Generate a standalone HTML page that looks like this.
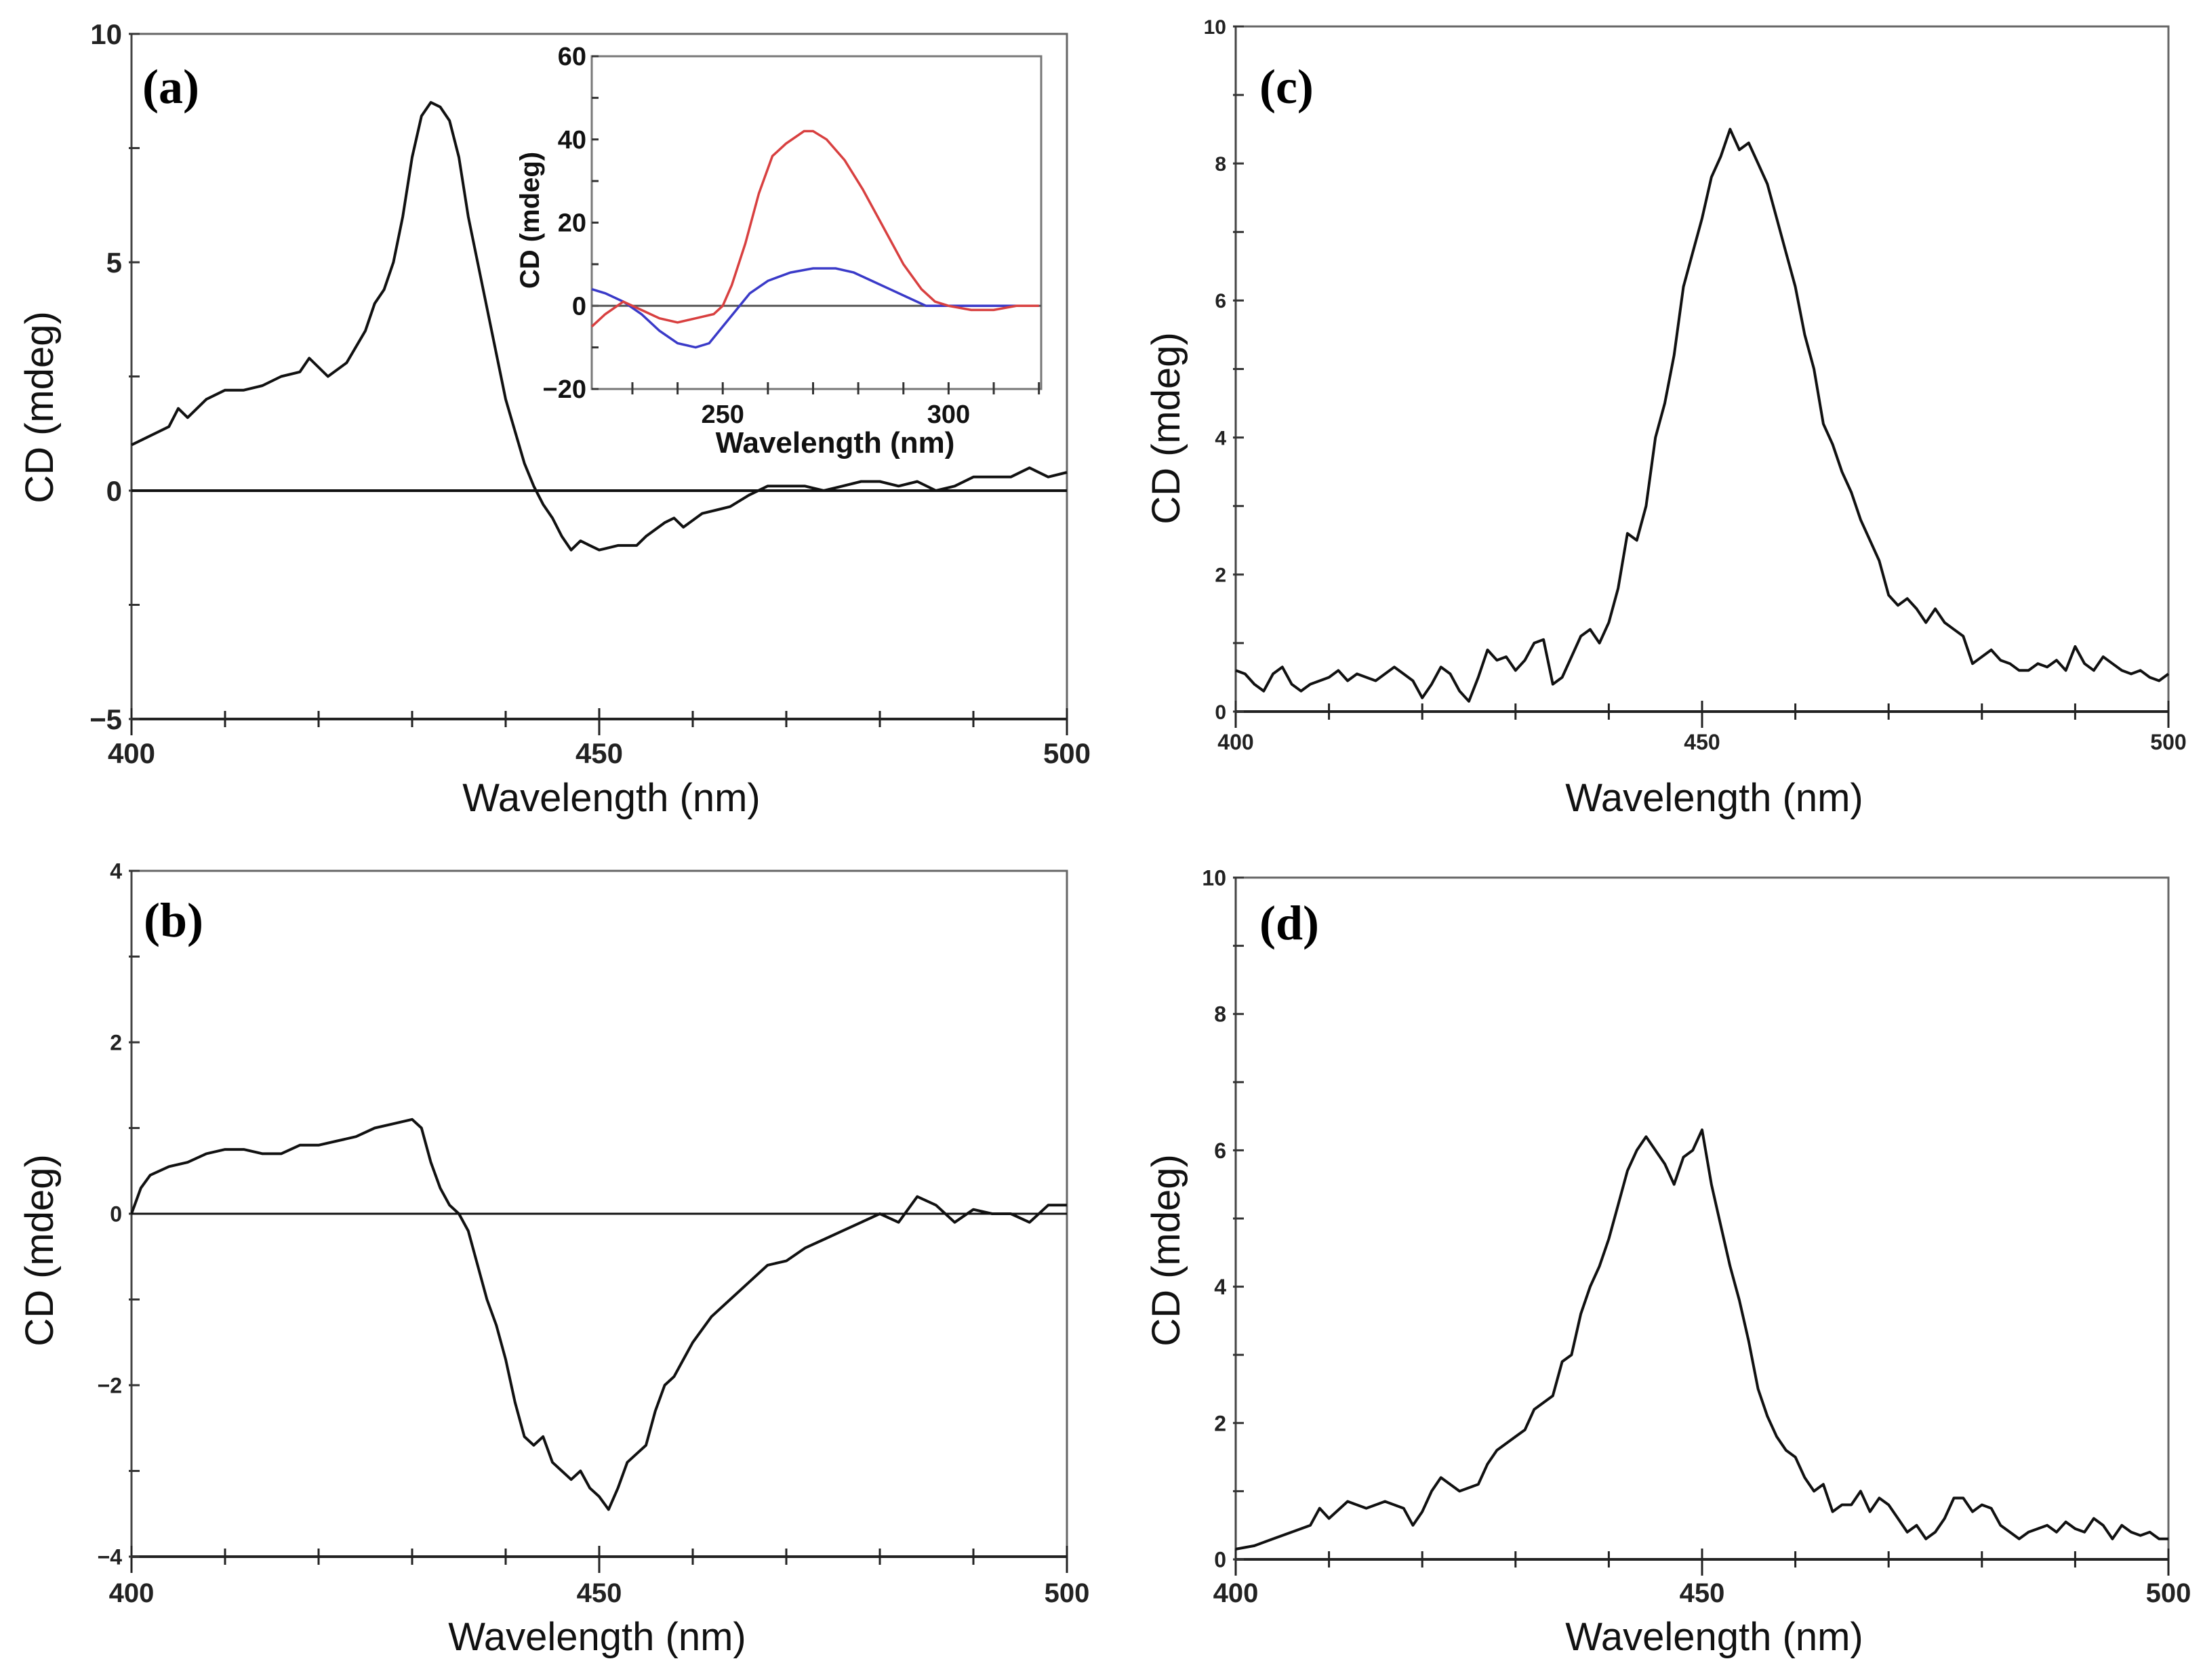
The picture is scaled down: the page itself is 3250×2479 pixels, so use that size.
<!DOCTYPE html>
<html><head><meta charset="utf-8"><style>
html,body{margin:0;padding:0;background:#fff}
svg{display:block}
text{font-family:"Liberation Sans",Arial,sans-serif}
text.plab{font-family:"Liberation Serif",serif}
</style></head><body>
<svg id="fig" width="3250" height="2479" viewBox="0 0 3250 2479" xmlns="http://www.w3.org/2000/svg"></svg>
<script>
// ---------- data ----------
const aWl = [400,402,404,405,406,408,410,412,414,416,418,419,420,421,423,425,426,427,428,429,430,431,432,433,434,435,436,437,438,439,440,441,442,443,444,445,446,447,448,449,450,452,454,455,457,458,459,461,463,464,466,468,470,472,474,476,478,480,482,484,486,488,490,492,494,496,498,500];
const aCD = [1.0,1.2,1.4,1.8,1.6,2.0,2.2,2.2,2.3,2.5,2.6,2.9,2.7,2.5,2.8,3.5,4.1,4.4,5.0,6.0,7.3,8.2,8.5,8.4,8.1,7.3,6.0,5.0,4.0,3.0,2.0,1.3,0.6,0.1,-0.3,-0.6,-1.0,-1.3,-1.1,-1.2,-1.3,-1.2,-1.2,-1.0,-0.7,-0.6,-0.8,-0.5,-0.4,-0.35,-0.1,0.1,0.1,0.1,0.0,0.1,0.2,0.2,0.1,0.2,0.0,0.1,0.3,0.3,0.3,0.5,0.3,0.4];
const insRedWl = [221,224,228,232,236,240,244,248,250,252,255,258,261,264,268,270,273,277,281,285,290,294,297,300,305,310,315,320];
const insRedCD = [-5,-2,1,-1,-3,-4,-3,-2,0,5,15,27,36,39,42,42,40,35,28,20,10,4,1,0,-1,-1,0,0];
const insBlueWl = [221,224,228,232,236,240,244,247,250,253,256,260,265,270,275,279,283,287,291,295,300,310,320];
const insBlueCD = [4,3,1,-2,-6,-9,-10,-9,-5,-1,3,6,8,9,9,8,6,4,2,0,0,0,0];
const bWl = [400,401,402,404,406,408,410,412,414,416,418,420,422,424,426,428,430,431,432,433,434,435,436,437,438,439,440,441,442,443,444,445,446,447,448,449,450,451,452,453,454,455,456,457,458,459,460,462,464,466,468,470,472,474,476,478,480,482,484,486,488,490,492,494,496,498,500];
const bCD = [0.0,0.3,0.45,0.55,0.6,0.7,0.75,0.75,0.7,0.7,0.8,0.8,0.85,0.9,1.0,1.05,1.1,1.0,0.6,0.3,0.1,0.0,-0.2,-0.6,-1.0,-1.3,-1.7,-2.2,-2.6,-2.7,-2.6,-2.9,-3.0,-3.1,-3.0,-3.2,-3.3,-3.45,-3.2,-2.9,-2.8,-2.7,-2.3,-2.0,-1.9,-1.7,-1.5,-1.2,-1.0,-0.8,-0.6,-0.55,-0.4,-0.3,-0.2,-0.1,0.0,-0.1,0.2,0.1,-0.1,0.05,0.0,0.0,-0.1,0.1,0.1];
const cWl = [400,401,402,403,404,405,406,407,408,410,411,412,413,415,417,418,419,420,421,422,423,424,425,426,427,428,429,430,431,432,433,434,435,436,437,438,439,440,441,442,443,444,445,446,447,448,449,450,451,452,453,454,455,456,457,458,459,460,461,462,463,464,465,466,467,468,469,470,471,472,473,474,475,476,477,478,479,480,481,482,483,484,485,486,487,488,489,490,491,492,493,494,495,496,497,498,499,500];
const cCD = [0.6,0.55,0.4,0.3,0.55,0.65,0.4,0.3,0.4,0.5,0.6,0.45,0.55,0.45,0.65,0.55,0.45,0.2,0.4,0.65,0.55,0.3,0.15,0.5,0.9,0.75,0.8,0.6,0.75,1.0,1.05,0.4,0.5,0.8,1.1,1.2,1.0,1.3,1.8,2.6,2.5,3.0,4.0,4.5,5.2,6.2,6.7,7.2,7.8,8.1,8.5,8.2,8.3,8.0,7.7,7.2,6.7,6.2,5.5,5.0,4.2,3.9,3.5,3.2,2.8,2.5,2.2,1.7,1.55,1.65,1.5,1.3,1.5,1.3,1.2,1.1,0.7,0.8,0.9,0.75,0.7,0.6,0.6,0.7,0.65,0.75,0.6,0.95,0.7,0.6,0.8,0.7,0.6,0.55,0.6,0.5,0.45,0.55];
const dWl = [400,402,404,406,408,409,410,412,414,416,418,419,420,421,422,424,426,427,428,430,431,432,434,435,436,437,438,439,440,441,442,443,444,445,446,447,448,449,450,451,452,453,454,455,456,457,458,459,460,461,462,463,464,465,466,467,468,469,470,471,472,473,474,475,476,477,478,479,480,481,482,483,484,485,486,487,488,489,490,491,492,493,494,495,496,497,498,499,500];
const dCD = [0.15,0.2,0.3,0.4,0.5,0.75,0.6,0.85,0.75,0.85,0.75,0.5,0.7,1.0,1.2,1.0,1.1,1.4,1.6,1.8,1.9,2.2,2.4,2.9,3.0,3.6,4.0,4.3,4.7,5.2,5.7,6.0,6.2,6.0,5.8,5.5,5.9,6.0,6.3,5.5,4.9,4.3,3.8,3.2,2.5,2.1,1.8,1.6,1.5,1.2,1.0,1.1,0.7,0.8,0.8,1.0,0.7,0.9,0.8,0.6,0.4,0.5,0.3,0.4,0.6,0.9,0.9,0.7,0.8,0.75,0.5,0.4,0.3,0.4,0.45,0.5,0.4,0.55,0.45,0.4,0.6,0.5,0.3,0.5,0.4,0.35,0.4,0.3,0.3];
const xTicksMain = [400,450,500];
const yTicksA = [10,5,0,-5];
const yTicksB = [4,2,0,-2,-4];
const yTicksCD = [10,8,6,4,2,0];
const insXTicks = [250,300];
const insYTicks = [60,40,20,0,-20];

// ---------- helpers ----------
const NS = "http://www.w3.org/2000/svg";
const svg = document.getElementById('fig');
function mk(tag, attrs, parent){
  const e = document.createElementNS(NS, tag);
  for (const k in attrs) e.setAttribute(k, attrs[k]);
  (parent||svg).appendChild(e);
  return e;
}
function scale(d0,d1,r0,r1){ return v => r0 + (v-d0)/(d1-d0)*(r1-r0); }

function panel(o){
  const g = mk('g', {});
  
  
  const X = scale(o.xmin,o.xmax,o.L,o.R), Y = scale(o.ymin,o.ymax,o.B,o.T);
  const fr = mk('rect',{x:o.L,y:o.T,width:o.R-o.L,height:o.B-o.T,fill:'none',stroke:'#666','stroke-width':3},g);
  
  
  const ax = mk('line',{x1:o.L,y1:o.B,x2:o.R,y2:o.B,stroke:'#222','stroke-width':4},g);
  
  
  mk('line',{x1:o.L,y1:o.T,x2:o.L,y2:o.B,stroke:'#444','stroke-width':3},g);
  for (let v=o.xmin; v<=o.xmax; v+=o.xminor){
    const big = o.xticks.includes(v);
    const t = mk('line',{x1:X(v),y1:o.B-(big?16:12),x2:X(v),y2:o.B+(big?24:12),stroke:'#222','stroke-width':3},g);
    
    
  }
  o.xticks.forEach(v=>{
    const t = mk('text',{x:X(v),y:o.xlabY,'text-anchor':'middle','font-size':o.xfs,'font-weight':'bold',fill:'#222'},g);
    t.textContent = v;
    
    
  });
  for (let v=o.ymin; v<=o.ymax+1e-9; v+=o.yminor){
    const t = mk('line',{x1:o.L-4,y1:Y(v),x2:o.L+12,y2:Y(v),stroke:'#333','stroke-width':3},g);
    
    
  }
  o.yticks.forEach(v=>{
    const t = mk('text',{x:o.L-14,y:Y(v)+o.yfs*0.36,'text-anchor':'end','font-size':o.yfs,'font-weight':'bold',fill:'#222'},g);
    t.textContent = v<0 ? '\u2212'+(-v) : v;
    
    
  });
  if (o.zero){
    const z = mk('line',{x1:o.L,y1:Y(0),x2:o.R,y2:Y(0),stroke:'#111','stroke-width':o.zw},g);
    
    
  }
  const pts = o.wl.map((w,i)=>X(w).toFixed(1)+','+Y(o.cd[i]).toFixed(1)).join(' ');
  const pl = mk('polyline',{points:pts,fill:'none',stroke:'#111','stroke-width':4,'stroke-linejoin':'round'},g);
  
  
  const xt = mk('text',{x:o.xtX,y:o.xtY,'text-anchor':'middle','font-size':58,fill:'#111'},g);
  xt.textContent = 'Wavelength (nm)';
  
  
  const yt = mk('text',{x:0,y:0,'text-anchor':'middle','font-size':58,fill:'#111',transform:`translate(${o.ytX},${o.ytY}) rotate(-90)`},g);
  yt.textContent = 'CD (mdeg)';
  
  
  const lb = mk('text',{x:o.lbX,y:o.lbY,'font-size':72,'font-weight':'bold',fill:'#000','class':'plab'},g);
  lb.textContent = o.label;
  
  
  return g;
}

panel({name:'panel-a',L:194,R:1574,T:50,B:1061,xmin:400,xmax:500,ymin:-5,ymax:10,xminor:10,xticks:xTicksMain,yminor:2.5,yticks:yTicksA,
  wl:aWl,cd:aCD,zero:true,zw:4,xfs:42,yfs:42,xlabY:1126,xtX:902,xtY:1197,ytX:78,ytY:601,lbX:210,lbY:152,label:'(a)'});
panel({name:'panel-c',L:1823,R:3199,T:39,B:1050,xmin:400,xmax:500,ymin:0,ymax:10,xminor:10,xticks:xTicksMain,yminor:1,yticks:yTicksCD,
  wl:cWl,cd:cCD,zero:false,xfs:32,yfs:30,xlabY:1106,xtX:2529,xtY:1197,ytX:1740,ytY:632,lbX:1858,lbY:152,label:'(c)'});
panel({name:'panel-b',L:194,R:1574,T:1285,B:2297,xmin:400,xmax:500,ymin:-4,ymax:4,xminor:10,xticks:xTicksMain,yminor:1,yticks:yTicksB,
  wl:bWl,cd:bCD,zero:true,zw:3,xfs:40,yfs:32,xlabY:2364,xtX:881,xtY:2435,ytX:78,ytY:1845,lbX:212,lbY:1382,label:'(b)'});
panel({name:'panel-d',L:1823,R:3199,T:1295,B:2301,xmin:400,xmax:500,ymin:0,ymax:10,xminor:10,xticks:xTicksMain,yminor:1,yticks:yTicksCD,
  wl:dWl,cd:dCD,zero:false,xfs:40,yfs:32,xlabY:2364,xtX:2529,xtY:2435,ytX:1740,ytY:1845,lbX:1858,lbY:1386,label:'(d)'});

// ---------- inset ----------
(function(){
  const L=873,R=1536,T=83,B=574;
  const g = mk('g',{});
  
  
  const X = scale(221,320.5,L,R), Y = scale(-20,60,B,T);
  mk('rect',{x:L,y:T,width:R-L,height:B-T,fill:'#fff',stroke:'#777','stroke-width':3},g);
  for (let v=230; v<=320; v+=10){
    const t = mk('line',{x1:X(v),y1:B-10,x2:X(v),y2:B+8,stroke:'#333','stroke-width':3},g);
    
    
  }
  for (let v=-20; v<=60; v+=10){
    const t = mk('line',{x1:L,y1:Y(v),x2:L+10,y2:Y(v),stroke:'#333','stroke-width':3},g);
    
    
  }
  insXTicks.forEach(v=>{
    const t = mk('text',{x:X(v),y:B+50,'text-anchor':'middle','font-size':38,'font-weight':'bold',fill:'#111'},g);
    t.textContent=v;
    
    
  });
  insYTicks.forEach(v=>{
    const t = mk('text',{x:L-8,y:Y(v)+13,'text-anchor':'end','font-size':38,'font-weight':'bold',fill:'#111'},g);
    t.textContent = v<0 ? '\u2212'+(-v) : v;
    
    
  });
  const z = mk('line',{x1:L,y1:Y(0),x2:R,y2:Y(0),stroke:'#555','stroke-width':3},g);
  
  
  const bl = mk('polyline',{points:insBlueWl.map((w,i)=>X(w).toFixed(1)+','+Y(insBlueCD[i]).toFixed(1)).join(' '),fill:'none',stroke:'#3a3ac8','stroke-width':3.5},g);
  
  
  const rd = mk('polyline',{points:insRedWl.map((w,i)=>X(w).toFixed(1)+','+Y(insRedCD[i]).toFixed(1)).join(' '),fill:'none',stroke:'#d84040','stroke-width':3.5},g);
  
  
  const xt = mk('text',{x:1232,y:668,'text-anchor':'middle','font-size':44,'font-weight':'bold',fill:'#111'},g);
  xt.textContent='Wavelength (nm)';
  
  
  const yt = mk('text',{x:0,y:0,'text-anchor':'middle','font-size':40,'font-weight':'bold',fill:'#111',transform:'translate(795,325) rotate(-90)'},g);
  yt.textContent='CD (mdeg)';
  
  
})();
</script>
</body></html>
